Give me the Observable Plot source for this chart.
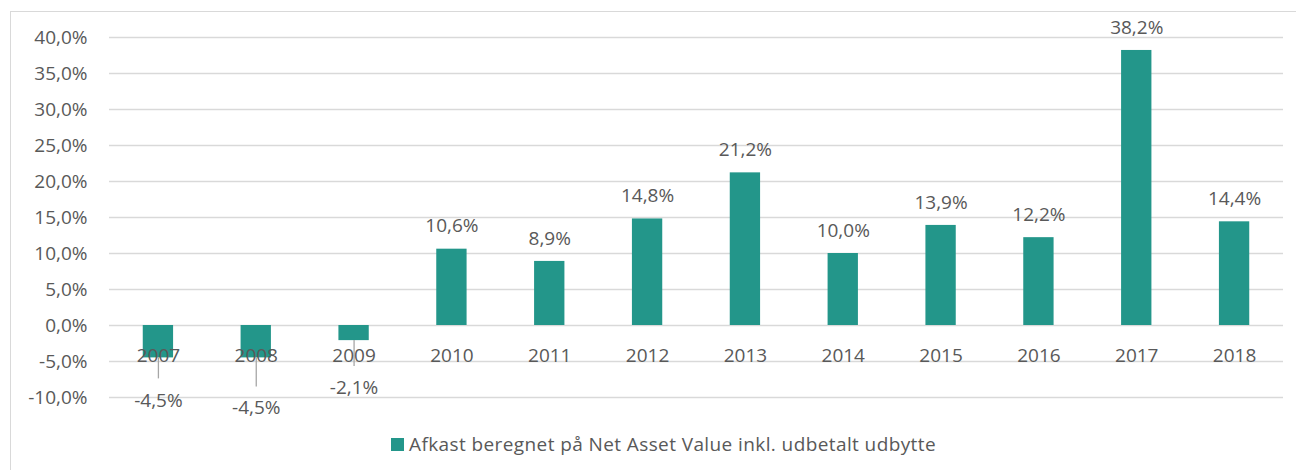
<!DOCTYPE html>
<html><head><meta charset="utf-8">
<script src="https://cdn.jsdelivr.net/npm/d3@7"></script>
<script src="https://cdn.jsdelivr.net/npm/@observablehq/plot@0.6"></script>
<style>
body{margin:0;background:#fff;width:1296px;height:470px;overflow:hidden;position:relative;font-family:"Open Sans",sans-serif;}
#frame{position:absolute;left:10px;top:11px;width:1400px;height:600px;border:1.5px solid #d9d9d9;box-sizing:border-box;}
#chart{position:absolute;left:0;top:0;}
#legend{position:absolute;left:391px;top:431px;display:flex;align-items:center;font-size:19px;letter-spacing:0.4px;color:#595959;white-space:nowrap;}
#legend .sw{width:13px;height:13px;background:#23968A;margin-right:5px;display:inline-block;}
</style></head><body>
<div id="frame"></div>
<div id="chart"></div>
<div id="legend"><span class="sw"></span><span id="legtext"></span></div>
<script>
const years = ["2007","2008","2009","2010","2011","2012","2013","2014","2015","2016","2017","2018"];
const returns = [-4.5,-4.5,-2.1,10.6,8.9,14.8,21.2,10.0,13.9,12.2,38.2,14.4];
const yTicks = [-10,-5,0,5,10,15,20,25,30,35,40];
const seriesName = "Afkast beregnet på Net Asset Value inkl. udbetalt udbytte";

const barColor = "#23968A";
const textColor = "#595959";
const fmt = v => v.toFixed(1).replace(".", ",") + "%";

const data = years.map((y, i) => ({year: y, value: returns[i]}));

// layout
const W = 1296, H = 425, mT = 37, mB = 28, mL = 109, mR = 13;
const yMin = -10, yMax = 40;
const pxPerUnit = (H - mT - mB) / (yMax - yMin);
// manually dragged labels for negative bars (pixel offsets below bar end)
const negLayout = {"2007": {lead: 21, label: 43}, "2008": {lead: 29, label: 50}, "2009": {lead: 26, label: 47}};

const neg = data.filter(d => d.value < 0).map(d => ({
  ...d,
  leadEnd: d.value - negLayout[d.year].lead / pxPerUnit,
  labelY: d.value - negLayout[d.year].label / pxPerUnit
}));
const pos = data.filter(d => d.value >= 0);

const fs = 19;
const chart = Plot.plot({
  width: W, height: H,
  marginTop: mT, marginBottom: mB, marginLeft: mL, marginRight: mR,
  style: {fontFamily: '"Open Sans", sans-serif', fontSize: fs + "px", color: textColor, background: "transparent"},
  x: {type: "band", domain: years, paddingInner: 0.69, paddingOuter: 0.345, round: false, axis: null},
  y: {domain: [yMin, yMax], axis: null},
  marks: [
    Plot.gridY(yTicks, {stroke: "#d9d9d9", strokeOpacity: 1, strokeWidth: 1.3}),
    Plot.axisY(yTicks, {tickSize: 0, tickPadding: 22, tickFormat: fmt, fontSize: fs, fill: textColor}),
    Plot.barY(data, {x: "year", y: "value", fill: barColor}),
    Plot.ruleX(neg, {x: "year", y1: "value", y2: "leadEnd", stroke: "#a6a6a6", strokeWidth: 1.3}),
    Plot.text(years, {x: d => d, y: () => 0, dy: 30, text: d => d, fill: textColor, fontSize: fs}),
    Plot.text(pos, {x: "year", y: "value", dy: -23, text: d => fmt(d.value), fill: textColor, fontSize: fs}),
    Plot.text(neg, {x: "year", y: "labelY", text: d => fmt(d.value), fill: textColor, fontSize: fs})
  ]
});
document.getElementById("chart").appendChild(chart);
document.getElementById("legtext").textContent = seriesName;
</script>
</body></html>
